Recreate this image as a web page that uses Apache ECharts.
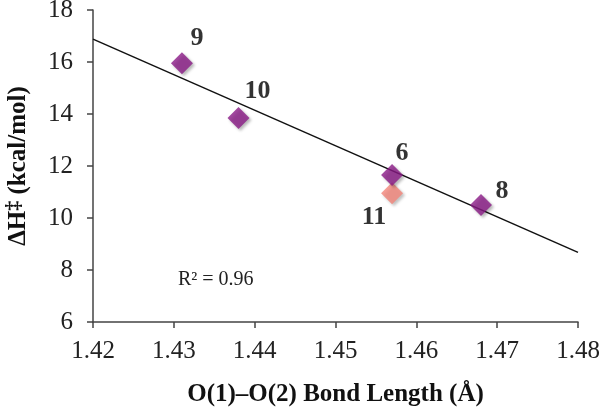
<!DOCTYPE html>
<html><head><meta charset="utf-8">
<script src="https://cdn.jsdelivr.net/npm/echarts@6/dist/echarts.min.js"></script>
<style>html,body{margin:0;padding:0;background:#fff}#c{width:600px;height:411px}</style>
</head><body><div id="c"></div>
<script>
const xTicks = [1.42, 1.43, 1.44, 1.45, 1.46, 1.47, 1.48];
const yTicks = [6, 8, 10, 12, 14, 16, 18];
const labels = ['9', '10', '6', '8'];
const bondLength = [1.431, 1.438, 1.457, 1.468];
const deltaH = [15.95, 13.85, 11.65, 10.5];
const label11 = '11';
const bondLength11 = 1.457;
const deltaH11 = 10.95;
const trendX = [1.42, 1.48];
const trendY = [16.88, 8.68];
const r2Text = 'R² = 0.96';

const serif = 'Liberation Serif';
const chart = echarts.init(document.getElementById('c'));
const labelOffsets = [[15, -25], [19, -27], [10, -22], [21, -14]];
const ptLabel = { fontFamily: serif, fontWeight: 'bold', fontSize: 26, color: '#000', textBorderWidth: 0, textShadowBlur: 0 };
const mainData = bondLength.map((x, i) => ({
  value: [x, deltaH[i]],
  label: Object.assign({ show: true, formatter: labels[i], position: 'inside', offset: labelOffsets[i] }, ptLabel)
}));
chart.setOption({
  animation: false,
  grid: { left: 93, right: 22, top: 10, bottom: 89, containLabel: false, outerBoundsMode: 'none' },
  xAxis: {
    type: 'value', min: 1.42, max: 1.48, interval: 0.01,
    name: 'O(1)–O(2) Bond Length (Å)', nameLocation: 'middle', nameGap: 60,
    nameTextStyle: { fontFamily: serif, fontWeight: 'bold', fontSize: 25, color: '#111' },
    axisLine: { lineStyle: { color: '#444', width: 1.5 } },
    axisTick: { inside: false, length: 6, lineStyle: { color: '#444', width: 1.5 } },
    axisLabel: { fontFamily: serif, fontSize: 25, color: '#222', margin: 17, formatter: v => v.toFixed(2) },
    splitLine: { show: false }
  },
  yAxis: {
    type: 'value', min: 6, max: 18, interval: 2,
    name: '{a|ΔH}{b|‡}{a| (kcal/mol)}', nameLocation: 'middle', nameGap: 60, nameRotate: 90,
    nameTextStyle: {
      fontFamily: serif, fontWeight: 'bold', fontSize: 25, color: '#111',
      rich: {
        a: { fontFamily: serif, fontWeight: 'bold', fontSize: 25, color: '#111' },
        b: { fontFamily: serif, fontWeight: 'bold', fontSize: 20, color: '#111', verticalAlign: 'top', padding: [0, 0, 8, 0] }
      }
    },
    axisLine: { show: true, lineStyle: { color: '#444', width: 1.5 } },
    axisTick: { show: true, length: 6, lineStyle: { color: '#444', width: 1.5 } },
    axisLabel: { fontFamily: serif, fontSize: 25, color: '#222', margin: 20 },
    splitLine: { show: false }
  },
  graphic: [{
    type: 'text', left: 178, top: 270,
    style: { text: r2Text, font: '20px "Liberation Serif"', fill: '#222' }
  }],
  series: [
    {
      type: 'line', data: trendX.map((x, i) => [x, trendY[i]]), symbol: 'none',
      lineStyle: { color: '#111', width: 1.5 }, z: 1, silent: true
    },
    {
      type: 'scatter', data: mainData, symbol: 'diamond', symbolSize: 22,
      itemStyle: { color: '#8A1A86', shadowColor: 'rgba(0,0,0,0.35)', shadowBlur: 3, shadowOffsetX: 2, shadowOffsetY: 2 },
      z: 3
    },
    {
      type: 'scatter', data: [{ value: [bondLength11, deltaH11],
        label: Object.assign({ show: true, formatter: label11, position: 'inside', offset: [-18, 24] }, ptLabel) }],
      symbol: 'diamond', symbolSize: 22,
      itemStyle: { color: '#F38479', shadowColor: 'rgba(0,0,0,0.3)', shadowBlur: 3, shadowOffsetX: 2, shadowOffsetY: 2 },
      z: 2
    }
  ]
});
</script></body></html>
